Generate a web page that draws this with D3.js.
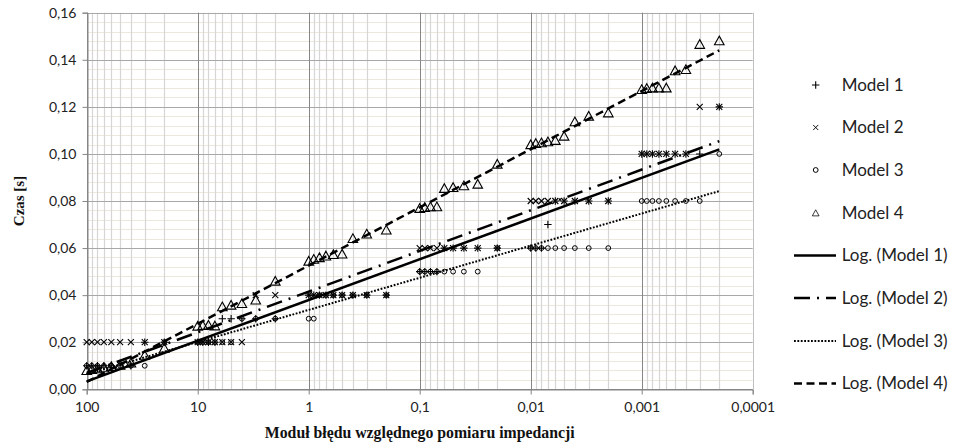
<!DOCTYPE html>
<html><head><meta charset="utf-8">
<script src="https://cdn.jsdelivr.net/npm/d3@7"></script>
<style>body{margin:0;background:#fff}svg{display:block}</style>
</head><body><svg id="c" width="953" height="445"></svg>
<script>
// ---- data ----
const xValues = [
  100, 90, 80, 70, 60, 50, 40, 30, 20,
  10, 9, 8, 7, 6, 5, 4, 3, 2,
  1, 0.9, 0.8, 0.7, 0.6, 0.5, 0.4, 0.3, 0.2,
  0.1, 0.09, 0.08, 0.07, 0.06, 0.05, 0.04, 0.03, 0.02,
  0.01, 0.009, 0.008, 0.007, 0.006, 0.005, 0.004, 0.003, 0.002,
  0.001, 0.0009, 0.0008, 0.0007, 0.0006, 0.0005, 0.0004, 0.0003, 0.0002
];
const model1 = [
  0.01, 0.01, 0.01, 0.01, 0.01, 0.01, 0.01, 0.02, 0.02,
  0.02, 0.02, 0.02, 0.02, 0.03, 0.03, 0.03, 0.03, 0.03,
  0.04, 0.04, 0.04, 0.04, 0.04, 0.04, 0.04, 0.04, 0.04,
  0.05, 0.05, 0.05, 0.05, 0.06, 0.06, 0.06, 0.06, 0.06,
  0.06, 0.06, 0.06, 0.07, 0.08, 0.08, 0.08, 0.08, 0.08,
  0.10, 0.10, 0.10, 0.10, 0.10, 0.10, 0.10, 0.10, 0.12
];
const model2 = [
  0.02, 0.02, 0.02, 0.02, 0.02, 0.02, 0.02, 0.02, 0.02,
  0.02, 0.02, 0.02, 0.02, 0.02, 0.02, 0.02, 0.04, 0.04,
  0.04, 0.04, 0.04, 0.04, 0.04, 0.04, 0.04, 0.04, 0.04,
  0.06, 0.06, 0.06, 0.06, 0.06, 0.06, 0.06, 0.06, 0.06,
  0.08, 0.08, 0.08, 0.08, 0.08, 0.08, 0.08, 0.08, 0.08,
  0.10, 0.10, 0.10, 0.10, 0.10, 0.10, 0.10, 0.12, 0.12
];
const model3 = [
  0.01, 0.01, 0.01, 0.01, 0.01, 0.01, 0.01, 0.01, 0.02,
  0.02, 0.02, 0.02, 0.02, 0.02, 0.02, 0.03, 0.03, 0.03,
  0.03, 0.03, 0.04, 0.04, 0.04, 0.04, 0.04, 0.04, 0.04,
  0.05, 0.05, 0.05, 0.05, 0.05, 0.05, 0.05, 0.05, 0.06,
  0.06, 0.06, 0.06, 0.06, 0.06, 0.06, 0.06, 0.06, 0.06,
  0.08, 0.08, 0.08, 0.08, 0.08, 0.08, 0.08, 0.08, 0.10
];
const model4 = [
  0.0080, 0.0085, 0.0088, 0.0092, 0.0097, 0.0103, 0.0112, 0.0145, 0.0175,
  0.0269, 0.0272, 0.0273, 0.0270, 0.0351, 0.0358, 0.0365, 0.0380, 0.0460,
  0.0545, 0.0553, 0.0560, 0.0567, 0.0573, 0.0575, 0.0641, 0.0660, 0.0677,
  0.0769, 0.0773, 0.0776, 0.0776, 0.0854, 0.0858, 0.0865, 0.0872, 0.0957,
  0.1040, 0.1045, 0.1048, 0.1052, 0.1058, 0.1076, 0.1137, 0.1161, 0.1175,
  0.1274, 0.1279, 0.1281, 0.1281, 0.1281, 0.1354, 0.1359, 0.1466, 0.1481
];
const seriesNames = ["Model 1", "Model 2", "Model 3", "Model 4"];
const trendNames = ["Log. (Model 1)", "Log. (Model 2)", "Log. (Model 3)", "Log. (Model 4)"];
const xTicks = [100, 10, 1, 0.1, 0.01, 0.001, 0.0001];
const xTickLabels = ["100", "10", "1", "0,1", "0,01", "0,001", "0,0001"];
const yTicks = [0, 0.02, 0.04, 0.06, 0.08, 0.10, 0.12, 0.14, 0.16];
const yTickLabels = ["0,00", "0,02", "0,04", "0,06", "0,08", "0,10", "0,12", "0,14", "0,16"];
const xTitle = "Moduł błędu względnego pomiaru impedancji";
const yTitle = "Czas [s]";

// ---- layout ----
const P = {left: 86.7, right: 752.7, top: 12.7, bottom: 389.3};
const svg = d3.select("#c");
const x = d3.scaleLog().domain([100, 0.0001]).range([P.left, P.right]);
const y = d3.scaleLinear().domain([0, 0.16]).range([P.bottom, P.top]);
const tickFont = "Lato, 'Open Sans', sans-serif";

const grid = svg.append("g");
// minor horizontal
const yMinor = d3.range(0, 0.1601, 0.004).filter(v => Math.abs(v / 0.02 - Math.round(v / 0.02)) > 1e-6);
grid.selectAll(".hm").data(yMinor).enter().append("line")
  .attr("x1", P.left).attr("x2", P.right)
  .attr("y1", d => Math.round(y(d)) + 0.5).attr("y2", d => Math.round(y(d)) + 0.5)
  .attr("stroke", "#ece9dc").attr("stroke-width", 1);
// minor vertical
const xMinor = [];
xTicks.slice(0, -1).forEach(t => { for (let m = 2; m <= 9; m++) xMinor.push(t / 10 * m); });
grid.selectAll(".vm").data(xMinor).enter().append("line")
  .attr("y1", P.top).attr("y2", P.bottom)
  .attr("x1", d => Math.round(x(d)) + 0.5).attr("x2", d => Math.round(x(d)) + 0.5)
  .attr("stroke", "#d6d6d6").attr("stroke-width", 1.2);
// major horizontal
grid.selectAll(".hM").data(yTicks).enter().append("line")
  .attr("x1", P.left).attr("x2", P.right)
  .attr("y1", d => Math.round(y(d)) + 0.5).attr("y2", d => Math.round(y(d)) + 0.5)
  .attr("stroke", d => d === 0 ? "#868686" : "#a8a8a8").attr("stroke-width", 1);
// major vertical
grid.selectAll(".vM").data(xTicks).enter().append("line")
  .attr("y1", P.top).attr("y2", P.bottom)
  .attr("x1", d => Math.round(x(d)) + 0.5).attr("x2", d => Math.round(x(d)) + 0.5)
  .attr("stroke", (d, i) => i === xTicks.length - 1 ? "#c0c0c0" : "#868686").attr("stroke-width", 1);

// axes
const yAxis = d3.axisLeft(y).tickValues(yTicks).tickSize(5).tickPadding(6)
  .tickFormat((d, i) => yTickLabels[i]);
const gy = svg.append("g").attr("transform", `translate(${Math.round(P.left) + 0.5},0)`).call(yAxis);
const xAxis = d3.axisBottom(x).tickValues(xTicks).tickSize(5).tickPadding(8)
  .tickFormat((d, i) => xTickLabels[i]);
const gx = svg.append("g").attr("transform", `translate(0,${Math.round(P.bottom) + 0.5})`).call(xAxis);
[gx, gy].forEach(g => {
  g.select(".domain").attr("stroke", "#868686");
  g.selectAll(".tick line").attr("stroke", "#868686");
  g.selectAll(".tick text").attr("fill", "#222").style("font-family", tickFont).style("font-size", "14px");
});

// titles
svg.append("text").attr("x", (P.left + P.right) / 2).attr("y", 438).attr("text-anchor", "middle")
  .style("font-family", "'Liberation Serif', 'Times New Roman', serif").style("font-weight", "bold")
  .style("font-size", "15.8px").attr("fill", "#111").text(xTitle);
svg.append("text").attr("transform", `translate(24,${(P.top + P.bottom) / 2}) rotate(-90)`).attr("text-anchor", "middle")
  .style("font-family", "'Liberation Serif', 'Times New Roman', serif").style("font-weight", "bold")
  .style("font-size", "15px").attr("fill", "#111").text(yTitle);

// markers
const markerPaths = [
  "M-3.7,0H3.7M0,-3.7V3.7",
  "M-3,-3L3,3M-3,3L3,-3",
  null,
  "M0,-4.6L4.8,4.1L-4.8,4.1Z"
];
function drawMarker(g, idx, scale) {
  if (idx === 2) {
    g.append("circle").attr("r", 2.4 * scale).attr("fill", "none").attr("stroke", "#000").attr("stroke-width", 1);
  } else {
    g.append("path").attr("d", markerPaths[idx]).attr("fill", "none").attr("stroke", "#000").attr("stroke-width", 1.1)
      .attr("transform", `scale(${scale})`);
  }
}
const seriesData = [model1, model2, model3, model4];
const mk = svg.append("g");
seriesData.forEach((vals, si) => {
  vals.forEach((v, i) => {
    const g = mk.append("g").attr("transform", `translate(${x(xValues[i])},${y(v)})`);
    drawMarker(g, si, 1);
  });
});

// logarithmic trendlines (least squares on ln x)
function logFit(xs, ys) {
  const n = xs.length;
  const lx = xs.map(Math.log);
  const mx = d3.mean(lx), my = d3.mean(ys);
  let sxy = 0, sxx = 0;
  for (let i = 0; i < n; i++) { sxy += (lx[i] - mx) * (ys[i] - my); sxx += (lx[i] - mx) ** 2; }
  const b = sxy / sxx;
  return {a: my - b * mx, b};
}
const dashes = [null, "16,7,2,7", "1.8,1.6", "8,4.5"];
const widths = [2.5, 2.5, 2, 2.5];
const xr = d3.extent(xValues);
const line = d3.line().x(d => x(d[0])).y(d => y(d[1]));
const tl = svg.append("g");
seriesData.forEach((vals, si) => {
  const f = logFit(xValues, vals);
  const pts = [xr[1], xr[0]].map(v => [v, f.a + f.b * Math.log(v)]);
  tl.append("path").attr("d", line(pts)).attr("fill", "none").attr("stroke", "#000")
    .attr("stroke-width", widths[si]).attr("stroke-dasharray", dashes[si]);
});

// legend
const legFont = "Lato, 'Open Sans', sans-serif";
const legY = [85, 127.5, 170, 213, 255.5, 298, 341, 383.5];
const lg = svg.append("g");
seriesNames.forEach((name, i) => {
  const g = lg.append("g").attr("transform", `translate(815.7,${legY[i]})`);
  drawMarker(g, i, i === 3 ? 0.7 : (i === 1 ? 0.85 : 1));
  lg.append("text").attr("x", 841.7).attr("y", legY[i]).attr("dy", "0.35em")
    .style("font-family", legFont).style("font-size", "17px").attr("fill", "#222").text(name);
});
trendNames.forEach((name, i) => {
  const yy = legY[4 + i];
  lg.append("line").attr("x1", 794).attr("x2", 836).attr("y1", yy).attr("y2", yy)
    .attr("stroke", "#000").attr("stroke-width", widths[i]).attr("stroke-dasharray", dashes[i]);
  lg.append("text").attr("x", 841.7).attr("y", yy).attr("dy", "0.35em")
    .style("font-family", legFont).style("font-size", "17px").attr("fill", "#222").text(name);
});
</script>
</body></html>
